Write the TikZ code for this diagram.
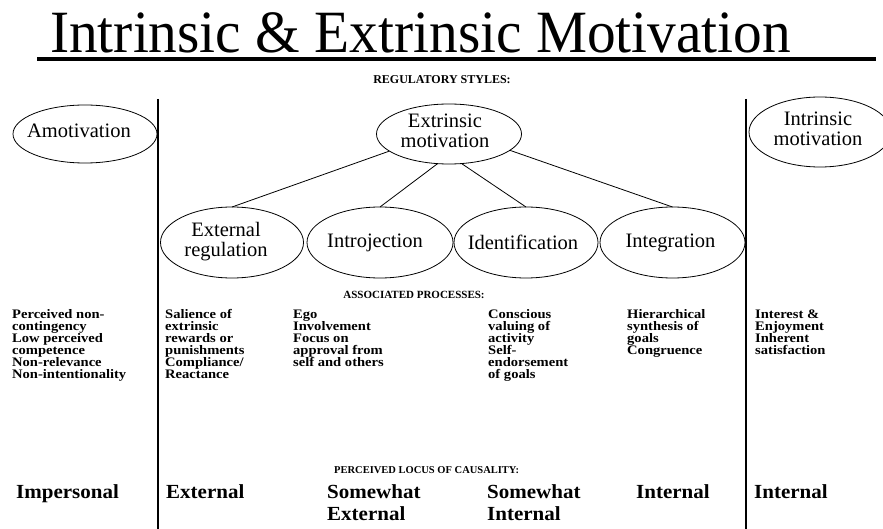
\documentclass[tikz,border=0pt]{standalone}
\usepackage{fontspec}
\usepackage{graphicx}
\setmainfont{Liberation Serif}
\newfontfamily\titlefont{Liberation Serif}
\newfontfamily\procfont{Liberation Serif}[FakeStretch=1.12]
\newfontfamily\locusfont{Liberation Serif}[FakeStretch=1.05]
\usetikzlibrary{shapes.geometric}
\newcommand\mytightlines{\lineskiplimit -20pt\relax}
\newcommand\ellabel[2]{\makebox[0pt]{#2\hspace{#1}}}
\begin{document}
\begin{tikzpicture}[x=1pt,y=-1pt,
  ell/.style={draw, ellipse, line width=0.8pt, inner sep=0pt, outer sep=0pt,
    font=\rmfamily\fontsize{20.5}{20}\selectfont},
  conn/.style={line width=0.8pt},
  divider/.style={line width=2pt},
  heading/.style={anchor=base, inner sep=0pt},
  proc/.style={anchor=north west, inner sep=0pt, align=left,
    font=\procfont\bfseries\fontsize{13}{12}\selectfont\mytightlines},
  locus/.style={anchor=north west, inner sep=0pt, align=left,
    font=\locusfont\bfseries\fontsize{20}{22}\selectfont\mytightlines}]
\fill[white] (0,0) rectangle (883,529);
\useasboundingbox (0,0) rectangle (883,529);

% title
\node[anchor=base west, inner sep=0pt] (title) at (50,53)
  {\scalebox{0.956}[1]{\titlefont\fontsize{60}{60}\selectfont Intrinsic \& Extrinsic Motivation}};
\draw[line width=3.5pt] (37,59) -- (876,59);

% dividers
\draw[divider] (158,99) -- (158,529);
\draw[divider] (746,99) -- (746,529);

% headings
\node[heading, font=\bfseries\fontsize{12}{12}\selectfont] (hreg) at (442,84) {REGULATORY STYLES:};
\node[heading, font=\bfseries\fontsize{11}{12}\selectfont] (hproc) at (414,298.5) {ASSOCIATED PROCESSES:};
\node[heading, anchor=base west, font=\bfseries\fontsize{10.5}{12}\selectfont] (hloc) at (334,473) {PERCEIVED LOCUS OF CAUSALITY:};

% regulatory styles
\node[ell, minimum width=144pt, minimum height=58pt] (amo) at (85,134)
  {\raisebox{7pt}{\ellabel{12pt}{Amotivation}}};
\node[ell, minimum width=145pt, minimum height=60pt] (ext) at (449,134)
  {\ellabel{8pt}{\begin{tabular}{@{}c@{}}Extrinsic\\motivation\end{tabular}}};
\node[ell, minimum width=142pt, minimum height=70pt] (int) at (820,132)
  {\ellabel{4pt}{\begin{tabular}{@{}c@{}}Intrinsic\\motivation\end{tabular}}};

\node[ell, minimum width=143pt, minimum height=71pt] (er) at (232,242.5)
  {\ellabel{12pt}{\begin{tabular}{@{}c@{}}External\\regulation\end{tabular}}};
\node[ell, minimum width=146pt, minimum height=71pt] (intro) at (380,242.5)
  {\ellabel{10pt}{Introjection}};
\node[ell, minimum width=144pt, minimum height=71pt] (ident) at (526,242.5)
  {\ellabel{6pt}{Identification}};
\node[ell, minimum width=145pt, minimum height=71pt] (integ) at (672.5,242.5)
  {\ellabel{4pt}{Integration}};

\draw[conn] (ext.196) -- (er.north);
\draw[conn] (ext.249) -- (intro.north);
\draw[conn] (ext.293) -- (ident.north);
\draw[conn] (ext.345) -- (integ.north);

% associated processes
\node[proc] (p0) at (12,309.6) {Perceived non-\\contingency\\Low perceived\\competence\\Non-relevance\\Non-intentionality};
\node[proc] (p1) at (165,309.6) {Salience of\\extrinsic\\rewards or\\punishments\\Compliance/\\Reactance};
\node[proc] (p2) at (293,309.6) {Ego\\Involvement\\Focus on\\approval from\\self and others};
\node[proc] (p3) at (488,309.6) {Conscious\\valuing of\\activity\\Self-\\endorsement\\of goals};
\node[proc] (p4) at (627,309.6) {Hierarchical\\synthesis of\\goals\\Congruence};
\node[proc] (p5) at (755,309.6) {Interest \&\\Enjoyment\\Inherent\\satisfaction};

% perceived locus of causality
\node[locus] (l0) at (16,484.5) {Impersonal};
\node[locus] (l1) at (166,484.5) {External};
\node[locus] (l2) at (327,484.5) {Somewhat\\External};
\node[locus] (l3) at (487,484.5) {Somewhat\\Internal};
\node[locus] (l4) at (636,484.5) {Internal};
\node[locus] (l5) at (754,484.5) {Internal};
\end{tikzpicture}
\end{document}
